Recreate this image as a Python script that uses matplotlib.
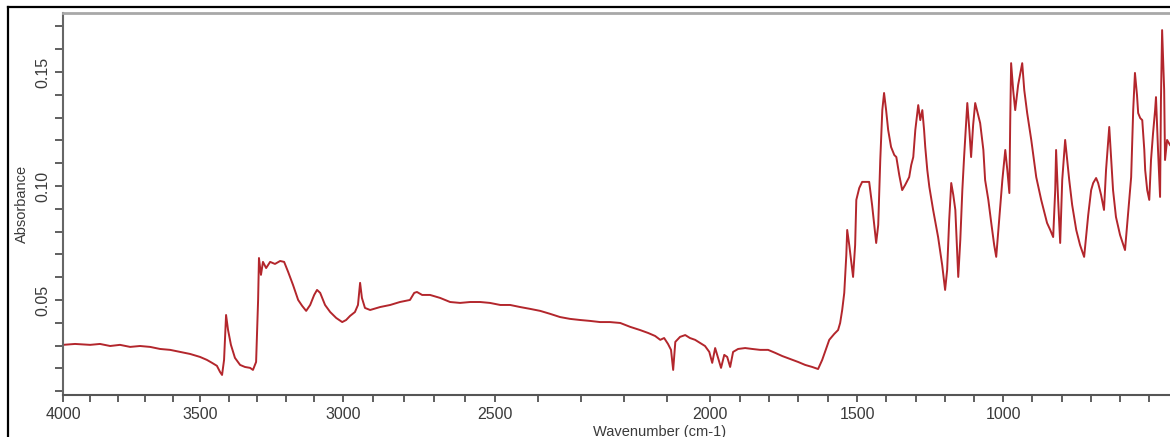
import numpy as np
import matplotlib
matplotlib.use("Agg")
import matplotlib.pyplot as plt
from matplotlib.ticker import MultipleLocator, FixedLocator, FormatStrFormatter
from matplotlib.lines import Line2D

# FTIR spectrum (wavenumber in cm-1, absorbance)
wavenumber = [
    4000, 3956, 3901, 3865, 3828, 3792, 3755, 3719, 3682, 3646, 3609, 3573, 3536, 3500,
    3476, 3458, 3441, 3430, 3423, 3416, 3409, 3402, 3392, 3378, 3360, 3343, 3325, 3315,
    3304, 3297, 3294, 3287, 3280, 3269, 3255, 3238, 3220, 3206, 3192, 3175, 3157, 3143,
    3129, 3115, 3101, 3091, 3080, 3063, 3045, 3024, 3003, 2990, 2977, 2961, 2951, 2944,
    2938, 2928, 2911, 2878, 2845, 2813, 2780, 2766, 2757, 2740, 2714, 2681, 2648, 2615,
    2582, 2549, 2517, 2488, 2465, 2442, 2419, 2395, 2372, 2349, 2326, 2302, 2279, 2256,
    2233, 2209, 2186, 2163, 2144, 2128, 2116, 2107, 2098, 2091, 2086, 2081, 2070, 2058,
    2047, 2035, 2023, 2012, 2002, 1993, 1983, 1973, 1963, 1952, 1942, 1932, 1922, 1905,
    1881, 1857, 1830, 1803, 1779, 1755, 1728, 1701, 1677, 1653, 1633, 1619, 1605, 1595,
    1578, 1565, 1558, 1551, 1544, 1537, 1534, 1527, 1520, 1514, 1507, 1503, 1493, 1483,
    1469, 1459, 1449, 1435, 1428, 1421, 1414, 1408, 1401, 1394, 1384, 1373, 1366, 1356,
    1346, 1336, 1322, 1315, 1308, 1301, 1291, 1284, 1277, 1271, 1267, 1260, 1253, 1240,
    1223, 1209, 1199, 1192, 1185, 1178, 1171, 1164, 1158, 1154, 1147, 1140, 1134, 1123,
    1116, 1110, 1103, 1096, 1090, 1079, 1068, 1062, 1051, 1041, 1031, 1024, 1014, 1003,
    993, 986, 979, 976, 973, 966, 959, 949, 935, 928, 918, 904, 887, 870,
    850, 839, 829, 822, 819, 812, 805, 798, 788, 781, 774, 764, 750, 737,
    723, 709, 699, 692, 682, 675, 665, 655, 648, 637, 630, 624, 614, 600,
    583, 573, 562, 555, 549, 542, 538, 531, 524, 517, 514, 507, 500, 494,
    487, 480, 477, 470, 463, 460, 456, 449, 446, 439, 429,
]
absorbance = [
    0.0303, 0.0307, 0.0303, 0.0307, 0.0298, 0.0303, 0.0294, 0.0298, 0.0294, 0.0285, 0.0281, 0.0272, 0.0263, 0.0250,
    0.0237, 0.0224, 0.0211, 0.0184, 0.0171, 0.0237, 0.0434, 0.0368, 0.0303, 0.0246, 0.0215, 0.0206, 0.0202, 0.0193,
    0.0228, 0.0500, 0.0684, 0.0610, 0.0667, 0.0640, 0.0667, 0.0658, 0.0671, 0.0667, 0.0623, 0.0566, 0.0500, 0.0474,
    0.0452, 0.0478, 0.0522, 0.0544, 0.0531, 0.0478, 0.0447, 0.0421, 0.0403, 0.0412, 0.0430, 0.0447, 0.0478, 0.0575,
    0.0509, 0.0465, 0.0456, 0.0469, 0.0478, 0.0491, 0.0500, 0.0531, 0.0535, 0.0522, 0.0522, 0.0509, 0.0491, 0.0487,
    0.0491, 0.0491, 0.0487, 0.0478, 0.0478, 0.0469, 0.0461, 0.0452, 0.0439, 0.0425, 0.0417, 0.0412, 0.0408, 0.0403,
    0.0403, 0.0399, 0.0382, 0.0368, 0.0355, 0.0342, 0.0325, 0.0333, 0.0307, 0.0281, 0.0193, 0.0316, 0.0338, 0.0346,
    0.0333, 0.0325, 0.0311, 0.0298, 0.0272, 0.0224, 0.0289, 0.0246, 0.0202, 0.0259, 0.0250, 0.0206, 0.0272, 0.0285,
    0.0289, 0.0285, 0.0281, 0.0281, 0.0268, 0.0254, 0.0241, 0.0228, 0.0215, 0.0206, 0.0197, 0.0237, 0.0289, 0.0325,
    0.0351, 0.0368, 0.0399, 0.0456, 0.0531, 0.0697, 0.0807, 0.0741, 0.0667, 0.0601, 0.0741, 0.0939, 0.0991, 0.1018,
    0.1018, 0.1018, 0.0917, 0.0750, 0.0829, 0.1114, 0.1333, 0.1408, 0.1333, 0.1246, 0.1171, 0.1136, 0.1127, 0.1048,
    0.0982, 0.1004, 0.1039, 0.1092, 0.1127, 0.1246, 0.1355, 0.1289, 0.1333, 0.1246, 0.1171, 0.1070, 0.0996, 0.0895,
    0.0776, 0.0653, 0.0544, 0.0632, 0.0851, 0.1013, 0.0961, 0.0895, 0.0719, 0.0601, 0.0763, 0.0982, 0.1127, 0.1364,
    0.1246, 0.1127, 0.1268, 0.1364, 0.1333, 0.1276, 0.1158, 0.1026, 0.0939, 0.0838, 0.0741, 0.0689, 0.0851, 0.1026,
    0.1158, 0.1070, 0.0969, 0.1289, 0.1539, 0.1421, 0.1333, 0.1443, 0.1539, 0.1421, 0.1320, 0.1202, 0.1039, 0.0939,
    0.0838, 0.0807, 0.0776, 0.0982, 0.1158, 0.0939, 0.0750, 0.1026, 0.1202, 0.1114, 0.1026, 0.0917, 0.0807, 0.0741,
    0.0689, 0.0873, 0.0982, 0.1013, 0.1035, 0.1013, 0.0961, 0.0895, 0.1070, 0.1259, 0.1114, 0.0982, 0.0864, 0.0785,
    0.0719, 0.0873, 0.1039, 0.1333, 0.1496, 0.1399, 0.1320, 0.1298, 0.1289, 0.1158, 0.1070, 0.0982, 0.0939, 0.1114,
    0.1232, 0.1333, 0.1390, 0.1158, 0.0952, 0.1377, 0.1684, 0.1421, 0.1114, 0.1202, 0.1180,
]
x_labels = [4000, 3500, 3000, 2500, 2000, 1500, 1000]

# the instrument's wavenumber axis is not evenly spaced: where each
# labelled wavenumber sits along the axis (in screen pixels)
axis_wn = [0, 1000, 1500, 2000, 2500, 3000, 3500, 4000, 5000]
axis_pos = [-1295, -1003, -857, -710, -495, -343, -200, -63, 211]


def fwd(w):
    return np.interp(w, axis_wn, axis_pos)


def inv(u):
    return np.interp(u, axis_pos, axis_wn)


plt.rcParams['font.family'] = ['Liberation Sans', 'DejaVu Sans']
text_col = '#3a3a3a'

fig = plt.figure(figsize=(11.7, 4.37), dpi=100)
ax = fig.add_axes([63 / 1170, 42 / 437, 1 - 63 / 1170, 382 / 437])

ax.plot(wavenumber, absorbance, color='#b3262c', lw=1.4)

ax.set_xscale('function', functions=(fwd, inv))
ax.set_xlim(4000, 429)
ax.set_ylim(0.0083, 0.1759)

ax.xaxis.set_major_locator(FixedLocator(x_labels))
ax.xaxis.set_minor_locator(MultipleLocator(100))
ax.xaxis.set_major_formatter(FormatStrFormatter('%d'))
ax.yaxis.set_major_locator(MultipleLocator(0.05))
ax.yaxis.set_minor_locator(MultipleLocator(0.01))
ax.yaxis.set_major_formatter(FormatStrFormatter('%.2f'))

ax.tick_params(axis='both', which='both', direction='out', length=5, width=1.2,
               color='#444444', labelsize=11.5, labelcolor=text_col)
ax.tick_params(axis='y', which='both', length=6, pad=3)
plt.setp(ax.get_yticklabels(), rotation=90, va='center')

ax.spines['right'].set_visible(False)
ax.spines['top'].set_color('#a8a8a8')
ax.spines['top'].set_linewidth(2)
ax.spines['left'].set_color('#666666')
ax.spines['left'].set_linewidth(1.5)
ax.spines['bottom'].set_color('#555555')
ax.spines['bottom'].set_linewidth(1.5)

ax.set_xlabel('Wavenumber (cm-1)', fontsize=10.5, color=text_col)
ax.xaxis.set_label_coords(0.539, -0.078)
ax.set_ylabel('Absorbance', fontsize=10.5, color=text_col)
ax.yaxis.set_label_coords(-0.031, 0.50)

# black frame of the surrounding figure box
fig.add_artist(Line2D([8 / 1170, 8 / 1170], [0, 1 - 7 / 437], color='black', lw=1.6))
fig.add_artist(Line2D([8 / 1170, 1], [1 - 7 / 437, 1 - 7 / 437], color='black', lw=1.6))

fig.savefig('out.png', dpi=100)
